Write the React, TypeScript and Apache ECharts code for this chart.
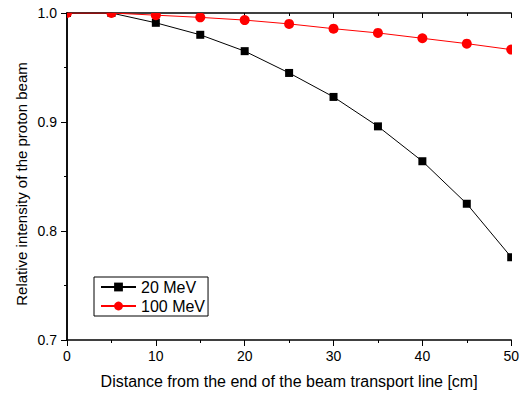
import React, { useEffect, useRef } from "react";
import * as echarts from "echarts";

const distances = [0, 5, 10, 15, 20, 25, 30, 35, 40, 45, 50];
const mev20 = [1.0, 1.0, 0.991, 0.98, 0.965, 0.945, 0.923, 0.896, 0.864, 0.825, 0.776];
const mev100 = [1.0, 1.0, 0.998, 0.996, 0.9935, 0.99, 0.9856, 0.9817, 0.9768, 0.9719, 0.9664];

const FONT = "Liberation Sans, Arial, sans-serif";
const W = 522;
const H = 394;

export default function App() {
  const ref = useRef<HTMLDivElement>(null);
  useEffect(() => {
    if (!ref.current) return;
    const chart = echarts.init(ref.current, undefined, { renderer: "svg" });
    const axisLine = { show: true, lineStyle: { color: "#000", width: 1.5 } };
    const pts20 = distances.map((d, i) => [d, mev20[i]]);
    const pts100 = distances.map((d, i) => [d, mev100[i]]);
    const markerSeries = (name: string, data: number[][], shape: "rect" | "circle", size: number, color: string, z: number) => ({
      name,
      type: "custom",
      clip: true,
      z,
      silent: true,
      encode: { x: 0, y: 1 },
      data,
      renderItem: (params: any, api: any) => {
        const p = api.coord([api.value(0), api.value(1)]);
        if (shape === "rect") {
          return {
            type: "rect",
            shape: { x: p[0] - size / 2, y: p[1] - size / 2, width: size, height: size },
            style: { fill: color },
          };
        }
        return {
          type: "circle",
          shape: { cx: p[0], cy: p[1], r: size / 2 },
          style: { fill: color },
        };
      },
    });
    chart.setOption({
      animation: false,
      backgroundColor: "#fff",
      textStyle: { fontFamily: FONT },
      grid: { left: 67, right: 8, top: 13, bottom: 52, containLabel: false },
      graphic: [
        {
          type: "text",
          x: 21,
          y: 184,
          rotation: Math.PI / 2,
          silent: true,
          style: {
            text: "Relative intensity of the proton beam",
            fontSize: 15,
            fontFamily: FONT,
            fill: "#000",
            textAlign: "center",
            textVerticalAlign: "middle",
          },
        },
      ],
      legend: {
        z: 12,
        orient: "vertical",
        left: 94,
        top: 277,
        borderColor: "#000",
        borderWidth: 1,
        borderRadius: 0,
        backgroundColor: "#fff",
        padding: [2, 3, 2, 6],
        itemGap: 3,
        itemWidth: 35,
        itemHeight: 11,
        textStyle: { fontSize: 16, color: "#000", fontFamily: FONT },
        data: ["20 MeV", "100 MeV"],
      },
      xAxis: [
        {
          type: "value",
          min: 0,
          max: 50,
          interval: 10,
          name: "Distance from the end of the beam transport line [cm]",
          nameLocation: "middle",
          nameGap: 33,
          nameTextStyle: { fontSize: 16, color: "#000", fontFamily: FONT },
          axisLine,
          axisTick: { show: true, inside: false, length: 6, lineStyle: { color: "#000", width: 1 } },
          minorTick: { show: true, splitNumber: 2, length: 3, lineStyle: { color: "#000", width: 1 } },
          axisLabel: { fontSize: 14, color: "#000", margin: 9, fontFamily: FONT },
          splitLine: { show: false },
        },
        {
          type: "value",
          position: "top",
          min: 0,
          max: 50,
          interval: 10,
          axisLine,
          axisTick: { show: true, inside: true, length: 5, lineStyle: { color: "#000" } },
          minorTick: { show: true, splitNumber: 2, length: 3, lineStyle: { color: "#000" } },
          axisLabel: { show: false },
          splitLine: { show: false },
        },
      ],
      yAxis: [
        {
          type: "value",
          min: 0.7,
          max: 1.0,
          interval: 0.1,
          axisLine,
          axisTick: { show: true, inside: false, length: 6, lineStyle: { color: "#000" } },
          minorTick: { show: true, splitNumber: 2, length: 3, lineStyle: { color: "#000" } },
          axisLabel: { fontSize: 14, color: "#000", margin: 10, fontFamily: FONT, formatter: (v: number) => v.toFixed(1) },
          splitLine: { show: false },
        },
        {
          type: "value",
          position: "right",
          min: 0.7,
          max: 1.0,
          interval: 0.1,
          axisLine,
          axisTick: { show: true, inside: true, length: 5, lineStyle: { color: "#000" } },
          minorTick: { show: true, splitNumber: 2, length: 3, lineStyle: { color: "#000" } },
          axisLabel: { show: false },
          splitLine: { show: false },
        },
      ],
      series: [
        {
          name: "20 MeV",
          type: "line",
          data: pts20,
          symbol: "rect",
          symbolSize: 8,
          showSymbol: false,
          lineStyle: { color: "#000", width: 1 },
          itemStyle: { color: "#000" },
          z: 2,
        },
        {
          name: "100 MeV",
          type: "line",
          data: pts100,
          symbol: "circle",
          symbolSize: 10,
          showSymbol: false,
          lineStyle: { color: "#ff0000", width: 1 },
          itemStyle: { color: "#ff0000" },
          z: 2,
        },
        markerSeries("20 MeV markers", pts20, "rect", 8, "#000", 3),
        markerSeries("100 MeV markers", pts100, "circle", 10, "#ff0000", 4),
      ],
    });
    return () => chart.dispose();
  }, []);
  return (
    <div
      ref={ref}
      style={{ position: "fixed", left: 0, top: 0, width: W, height: H, background: "#fff" }}
    />
  );
}
